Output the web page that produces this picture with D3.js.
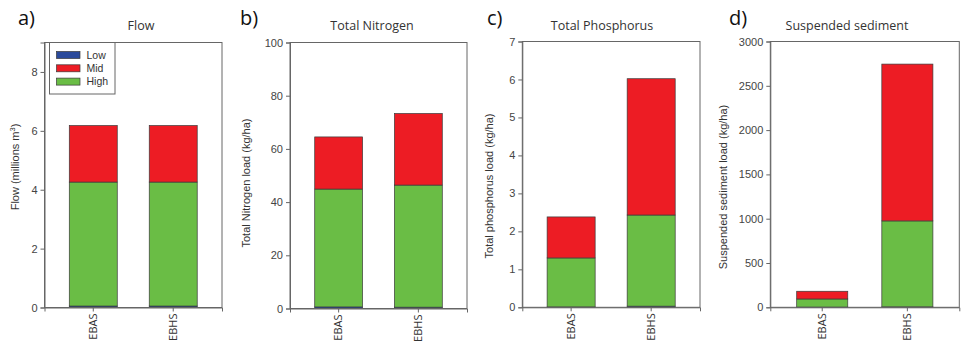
<!DOCTYPE html>
<html>
<head>
<meta charset="utf-8">
<script src="https://cdn.jsdelivr.net/npm/d3@7"></script>
<style>
  body { margin: 0; background: #fff; }
  svg { display: block; }
</style>
</head>
<body>
<div id="chart"></div>
<script>
// categories and series
const categories = ["EBAS", "EBHS"];
const seriesNames = ["Low", "Mid", "High"];
const stackOrder = ["Low", "High", "Mid"]; // bottom to top

// a) Flow (millions m3)
const flowLow = [0.05, 0.05];
const flowHigh = [4.21, 4.21];
const flowMid = [1.92, 1.92];
// b) Total Nitrogen (kg/ha)
const nitLow = [0.6, 0.5];
const nitHigh = [44.3, 45.9];
const nitMid = [19.6, 26.9];
// c) Total Phosphorus (kg/ha)
const phosLow = [0.01, 0.03];
const phosHigh = [1.29, 2.40];
const phosMid = [1.08, 3.59];
// d) Suspended sediment (kg/ha)
const sedLow = [2, 5];
const sedHigh = [92, 970];
const sedMid = [87, 1770];

const flowTicks = [0, 2, 4, 6, 8];
const nitTicks = [0, 20, 40, 60, 80, 100];
const phosTicks = [0, 1, 2, 3, 4, 5, 6, 7];
const sedTicks = [0, 500, 1000, 1500, 2000, 2500, 3000];

const colors = { Low: "#2b4a9b", Mid: "#ed1c24", High: "#6abd45" };

const panels = [
  { letter: "a)", title: "Flow", ylabel: "Flow (millions m", sup: "3", ymax: 9, ticks: flowTicks,
    low: flowLow, mid: flowMid, high: flowHigh,
    left: 44.5, right: 222, top: 42.5, bottom: 307.5, letterX: 18, titleX: 141, ylabX: 15, ylabY: 167, legend: true },
  { letter: "b)", title: "Total Nitrogen", ylabel: "Total Nitrogen load (kg/ha)", ymax: 100, ticks: nitTicks,
    low: nitLow, mid: nitMid, high: nitHigh,
    left: 290, right: 467, top: 42.5, bottom: 308.5, letterX: 240, titleX: 372, ylabX: 246, ylabY: 183 },
  { letter: "c)", title: "Total Phosphorus", ylabel: "Total phosphorus load (kg/ha)", ymax: 7, ticks: phosTicks,
    low: phosLow, mid: phosMid, high: phosHigh,
    left: 522.3, right: 700, top: 41.5, bottom: 307.3, letterX: 487, titleX: 602, ylabX: 489, ylabY: 186 },
  { letter: "d)", title: "Suspended sediment", ylabel: "Suspended sediment load (kg/ha)", ymax: 3000, ticks: sedTicks,
    low: sedLow, mid: sedMid, high: sedHigh,
    left: 770.3, right: 959.3, top: 41.5, bottom: 307.3, letterX: 729, titleX: 847, ylabX: 723, ylabY: 187 }
];

const width = 966, height = 343;
const svg = d3.select("#chart").append("svg")
  .attr("width", width)
  .attr("height", height);

const axisColor = "#666";
const textColor = "#333";

panels.forEach(p => {
  const x = d3.scaleBand().domain(categories)
    .range([p.left, p.right]).paddingInner(0.4).paddingOuter(0.31);
  const y = d3.scaleLinear().domain([0, p.ymax]).range([p.bottom, p.top]);

  const rows = categories.map((c, i) => ({ cat: c, Low: p.low[i], Mid: p.mid[i], High: p.high[i] }));
  const stacked = d3.stack().keys(stackOrder)(rows);

  const g = svg.append("g");

  // bars
  g.selectAll(".layer")
    .data(stacked)
    .enter().append("g")
    .attr("fill", d => colors[d.key])
    .selectAll("rect")
    .data(d => d)
    .enter().append("rect")
    .attr("x", d => x(d.data.cat))
    .attr("width", x.bandwidth())
    .attr("y", d => y(d[1]))
    .attr("height", d => Math.max(0, y(d[0]) - y(d[1])))
    .attr("stroke", "#3a3a3a")
    .attr("stroke-width", 0.7);

  // frame
  g.append("rect")
    .attr("x", p.left).attr("y", p.top)
    .attr("width", p.right - p.left).attr("height", p.bottom - p.top)
    .attr("fill", "none").attr("stroke", axisColor).attr("stroke-width", 1);

  // y axis
  const yAxis = g.append("g")
    .attr("transform", `translate(${p.left},0)`)
    .call(d3.axisLeft(y).tickValues(p.ticks).tickSize(4).tickPadding(3).tickFormat(d3.format("d")));
  yAxis.select(".domain").attr("stroke", axisColor);
  yAxis.selectAll(".tick line").attr("stroke", axisColor);
  yAxis.selectAll(".tick text")
    .attr("fill", "#444")
    .style("font-family", "'Liberation Sans', Arial, sans-serif")
    .style("font-size", "11px");

  // x axis
  const xAxis = g.append("g")
    .attr("transform", `translate(0,${p.bottom})`)
    .call(d3.axisBottom(x).tickSize(4).tickPadding(3));
  xAxis.select(".domain").attr("stroke", axisColor);
  xAxis.selectAll(".tick line").attr("stroke", axisColor);
  xAxis.selectAll(".tick text")
    .attr("fill", textColor)
    .attr("transform", "rotate(-90)")
    .attr("text-anchor", "end")
    .attr("x", -6)
    .attr("y", 0)
    .attr("dy", "0.35em")
    .style("font-family", "'Open Sans', sans-serif")
    .style("font-size", "11px");

  // titles
  svg.append("text")
    .attr("x", p.titleX).attr("y", 30)
    .attr("text-anchor", "middle")
    .attr("fill", textColor)
    .style("font-family", "'Open Sans', sans-serif")
    .style("font-size", "12.5px")
    .text(p.title);

  svg.append("text")
    .attr("x", p.letterX).attr("y", 25)
    .attr("fill", "#111")
    .style("font-family", "'Open Sans', sans-serif")
    .style("font-size", "20px")
    .text(p.letter);

  // y label
  const yl = svg.append("text")
    .attr("transform", `translate(${p.ylabX},${p.ylabY}) rotate(-90)`)
    .attr("text-anchor", "middle")
    .attr("dy", "0.35em")
    .attr("fill", textColor)
    .style("font-family", "'Liberation Sans', Arial, sans-serif")
    .style("font-size", "11px");
  yl.append("tspan").text(p.ylabel);
  if (p.sup) {
    yl.append("tspan").attr("baseline-shift", "super").style("font-size", "7.5px").text(p.sup);
    yl.append("tspan").text(")");
  }

  // legend
  if (p.legend) {
    const lg = svg.append("g").attr("transform", `translate(${p.left + 5},${p.top})`);
    lg.append("rect")
      .attr("width", 65.5).attr("height", 51.5)
      .attr("fill", "#fff").attr("stroke", axisColor).attr("stroke-width", 1);
    const items = lg.selectAll(".item")
      .data(seriesNames)
      .enter().append("g")
      .attr("transform", (d, i) => `translate(7,${9 + i * 13.3})`);
    items.append("rect")
      .attr("width", 23.5).attr("height", 7)
      .attr("fill", d => colors[d])
      .attr("stroke", "#3a3a3a").attr("stroke-width", 0.7);
    items.append("text")
      .attr("x", 30).attr("y", 3.5).attr("dy", "0.35em")
      .attr("fill", textColor)
      .style("font-family", "'Liberation Sans', Arial, sans-serif")
      .style("font-size", "10.5px")
      .text(d => d);
  }
});
</script>
</body>
</html>
